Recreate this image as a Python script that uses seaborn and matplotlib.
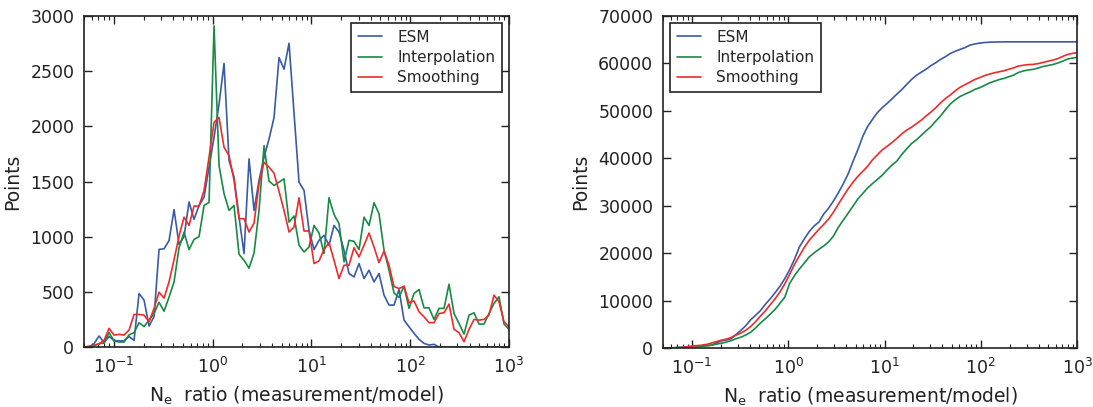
import numpy as np
import pandas as pd
import matplotlib
matplotlib.use("Agg")
import matplotlib.pyplot as plt
import seaborn as sns
from matplotlib.ticker import LogLocator, MultipleLocator, NullFormatter

# ---- data -------------------------------------------------------------
ratio_bins = np.logspace(np.log10(0.05), 3, 86)

esm = [0, 0, 30, 100, 40, 95, 60, 55, 55, 95, 60,
       485, 425, 190, 275, 885, 890, 965, 1245, 930, 1000,
       1315, 1157, 1283, 1358, 1630, 1900, 2200, 2570, 1690, 1540,
       1177, 847, 1705, 1238, 1510, 1720, 1885, 2080, 2623, 2518,
       2753, 2120, 1494, 1419, 1057, 883, 967, 1012, 922, 1102,
       1042, 877, 666, 635, 756, 620, 696, 590, 666, 470,
       380, 380, 521, 244, 183, 124, 70, 33, 18, 24,
       0, 0, 0, 0, 0, 0, 0, 0, 0, 0, 0, 0, 0, 0, 0]

interpolation = [0, 5, 15, 30, 35, 130, 55, 45, 45, 110, 130,
                 220, 185, 244, 304, 405, 325, 452, 590, 900, 1040,
                 883, 975, 1000, 1283, 1310, 2910, 1645, 1390, 1238, 1283,
                 840, 786, 714, 852, 1238, 1825, 1505, 1464, 1494, 1524,
                 1132, 1187, 922, 861, 906, 1102, 1033, 847, 1353, 1202,
                 1118, 771, 967, 958, 883, 1177, 1102, 1307, 1208, 877,
                 696, 490, 450, 551, 350, 485, 521, 355, 355, 250,
                 350, 350, 569, 304, 214, 117, 289, 310, 208, 208,
                 304, 395, 455, 208, 160]

smoothing = [0, 5, 15, 27, 60, 169, 108, 115, 108, 154, 295,
             295, 289, 229, 350, 497, 443, 590, 790, 1005, 1177,
             1102, 1277, 1277, 1419, 1720, 2036, 2081, 1810, 1735, 1510,
             1163, 1163, 1042, 1123, 1479, 1675, 1630, 1575, 1410, 1238,
             1042, 1087, 1353, 1051, 1051, 756, 780, 883, 946, 786,
             620, 741, 741, 900, 816, 922, 1033, 906, 765, 870,
             741, 548, 530, 551, 400, 418, 319, 274, 220, 220,
             304, 310, 389, 160, 130, 48, 160, 250, 244, 250,
             289, 470, 410, 229, 183]

method_names = ["ESM", "Interpolation", "Smoothing"]
method_colors = ["#3a5aa8", "#178a43", "#ee2b2b"]

left_yticks = [0, 500, 1000, 1500, 2000, 2500, 3000]
right_yticks = [0, 10000, 20000, 30000, 40000, 50000, 60000, 70000]
x_label = "N$_\\mathregular{e}$  ratio (measurement/model)"
y_label = "Points"

# ---- long-form tables --------------------------------------------------
series = [esm, interpolation, smoothing]
hist_df = pd.concat(
    [pd.DataFrame({"ratio": ratio_bins, "points": s, "method": n})
     for s, n in zip(series, method_names)], ignore_index=True)
cum_df = pd.concat(
    [pd.DataFrame({"ratio": ratio_bins, "points": np.cumsum(s), "method": n})
     for s, n in zip(series, method_names)], ignore_index=True)

# ---- style -------------------------------------------------------------
sns.set_style("ticks")
plt.rcParams["font.family"] = ["DejaVu Sans"]
plt.rcParams["mathtext.default"] = "regular"
plt.rcParams["axes.edgecolor"] = "#222222"
plt.rcParams["axes.linewidth"] = 1.2

fig = plt.figure(figsize=(10.93, 4.07), dpi=100)
ax1 = fig.add_axes([0.0769, 0.1474, 0.3888, 0.8133])
ax2 = fig.add_axes([0.6066, 0.1450, 0.3788, 0.8157])

palette = dict(zip(method_names, method_colors))

for ax, df, yticks, loc in [(ax1, hist_df, left_yticks, "upper right"),
                            (ax2, cum_df, right_yticks, "upper left")]:
    sns.lineplot(data=df, x="ratio", y="points", hue="method",
                 hue_order=method_names, palette=palette, estimator=None,
                 sort=False, linewidth=1.2, ax=ax)
    ax.set_xscale("log")
    ax.set_xlim(0.05, 1000)
    ax.set_ylim(yticks[0], yticks[-1])
    ax.set_yticks(yticks)
    ax.xaxis.set_major_locator(LogLocator(base=10, numticks=10))
    ax.xaxis.set_minor_locator(LogLocator(base=10, subs=np.arange(2, 10), numticks=20))
    ax.xaxis.set_minor_formatter(NullFormatter())
    ax.tick_params(which="both", direction="in", top=True, right=True,
                   colors="#222222", labelcolor="#222222", labelsize=12.5)
    ax.tick_params(which="major", length=6, width=1.0, pad=7)
    ax.tick_params(which="minor", length=3, width=0.8)
    ax.set_xlabel(x_label, fontsize=13.5, color="#222222", labelpad=6)
    ax.set_ylabel(y_label, fontsize=13.5, color="#222222", labelpad=6)
    for sp in ax.spines.values():
        sp.set_visible(True)
    handles, labels = ax.get_legend_handles_labels()
    leg = ax.legend(handles, labels, loc=loc, fontsize=11, frameon=True,
                    fancybox=False, edgecolor="#222222", framealpha=1,
                    handlelength=1.6, handletextpad=1.0, borderpad=0.45,
                    labelspacing=0.35, borderaxespad=0.45)
    leg.get_frame().set_linewidth(1.2)

fig.savefig("out.png", dpi=100)
